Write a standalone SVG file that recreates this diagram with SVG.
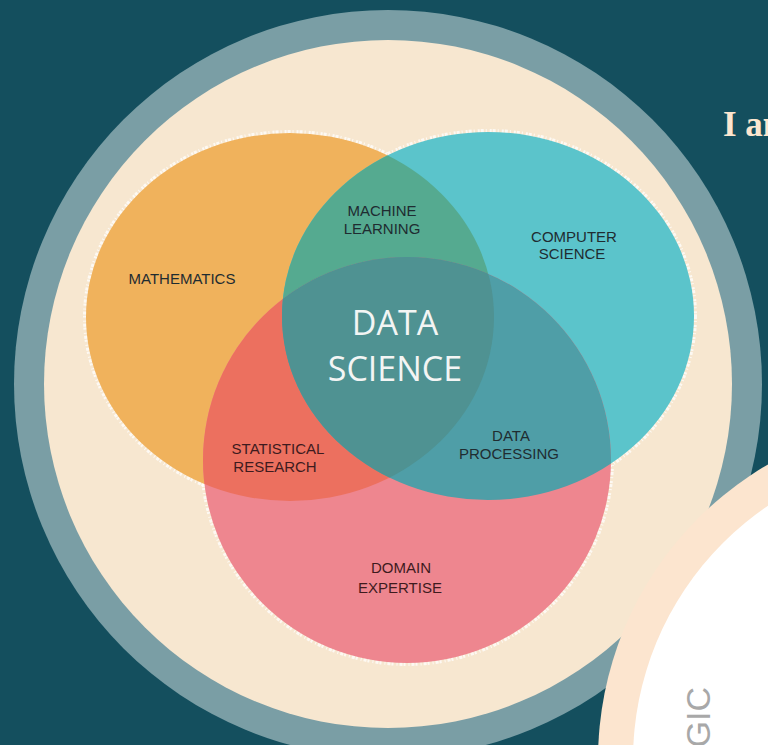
<svg xmlns="http://www.w3.org/2000/svg" width="768" height="745" viewBox="0 0 768 745">
  <defs>
    <style>
      .lbl { font-family: "Liberation Sans", Arial, sans-serif; font-size: 15px; text-anchor: middle; fill: #1F2C31; }
      .lbl-r { fill: #3E1B1E; }
      .big { font-family: "Open Sans", "Liberation Sans", sans-serif; font-size: 34px; text-anchor: middle; fill: #F3F5F4; }
      .edge { fill: none; stroke: #FFFFFF; stroke-width: 6; stroke-opacity: 0.75; stroke-dasharray: 3 2 1 3 2 1; }
    </style>
    <clipPath id="clipMath"><ellipse cx="290" cy="317" rx="204" ry="184"/></clipPath>
    <clipPath id="clipCS"><ellipse cx="488" cy="316" rx="206" ry="184"/></clipPath>
    <clipPath id="clipDom"><ellipse cx="407" cy="460" rx="204" ry="203"/></clipPath>
  </defs>

  <rect id="background" x="0" y="0" width="768" height="745" fill="#144F5E"/>

  <g id="frame">
    <circle cx="388" cy="384" r="374" fill="#7A9EA5"/>
    <circle cx="388" cy="384" r="344" fill="#F7E7D0"/>
  </g>

  <g id="venn-edge">
    <ellipse class="edge" cx="290" cy="317" rx="204" ry="184"/>
    <ellipse class="edge" cx="488" cy="316" rx="206" ry="184"/>
    <ellipse class="edge" cx="407" cy="460" rx="204" ry="203"/>
  </g>

  <g id="mathematics">
    <ellipse cx="290" cy="317" rx="204" ry="184" fill="#F0B25C"/>
  </g>
  <g id="computer-science">
    <ellipse cx="488" cy="316" rx="206" ry="184" fill="#5BC4CB"/>
  </g>
  <g id="domain-expertise">
    <ellipse cx="407" cy="460" rx="204" ry="203" fill="#EE868F"/>
  </g>

  <g id="machine-learning">
    <ellipse clip-path="url(#clipMath)" cx="488" cy="316" rx="206" ry="184" fill="#55AA90"/>
  </g>
  <g id="statistical-research">
    <ellipse clip-path="url(#clipMath)" cx="407" cy="460" rx="204" ry="203" fill="#EC705F"/>
  </g>
  <g id="data-processing">
    <ellipse clip-path="url(#clipCS)" cx="407" cy="460" rx="204" ry="203" fill="#4F9EA7"/>
  </g>
  <g id="data-science">
    <g clip-path="url(#clipMath)">
      <ellipse clip-path="url(#clipCS)" cx="407" cy="460" rx="204" ry="203" fill="#4F9292"/>
    </g>
  </g>

  <g id="labels">
    <text class="lbl" x="182" y="284">MATHEMATICS</text>
    <text class="lbl" x="382" y="216">MACHINE</text>
    <text class="lbl" x="382" y="234">LEARNING</text>
    <text class="lbl" x="574" y="242">COMPUTER</text>
    <text class="lbl" x="572" y="259">SCIENCE</text>
    <text class="lbl lbl-r" x="278" y="454">STATISTICAL</text>
    <text class="lbl lbl-r" x="275" y="472">RESEARCH</text>
    <text class="lbl" x="511" y="441">DATA</text>
    <text class="lbl" x="509" y="459">PROCESSING</text>
    <text class="lbl lbl-r" x="401" y="573">DOMAIN</text>
    <text class="lbl lbl-r" x="400" y="593">EXPERTISE</text>
    <text class="big" x="395" y="335">DATA</text>
    <text class="big" x="395" y="381">SCIENCE</text>
  </g>

  <g id="photo-circle">
    <circle cx="940" cy="760" r="342" fill="#FCE5CF"/>
    <circle cx="940" cy="760" r="307" fill="#FFFFFF"/>
    <text transform="translate(710,687) rotate(-90)" x="0" y="0" text-anchor="end" font-family="Liberation Sans, Arial, sans-serif" font-size="34" fill="#A8A8A8">GIC</text>
  </g>

  <g id="heading">
    <text x="723" y="136" font-family="Liberation Serif, Times New Roman, serif" font-weight="bold" font-size="35" fill="#FCE6CF">I am</text>
  </g>

  <g id="connectors"/>
</svg>
